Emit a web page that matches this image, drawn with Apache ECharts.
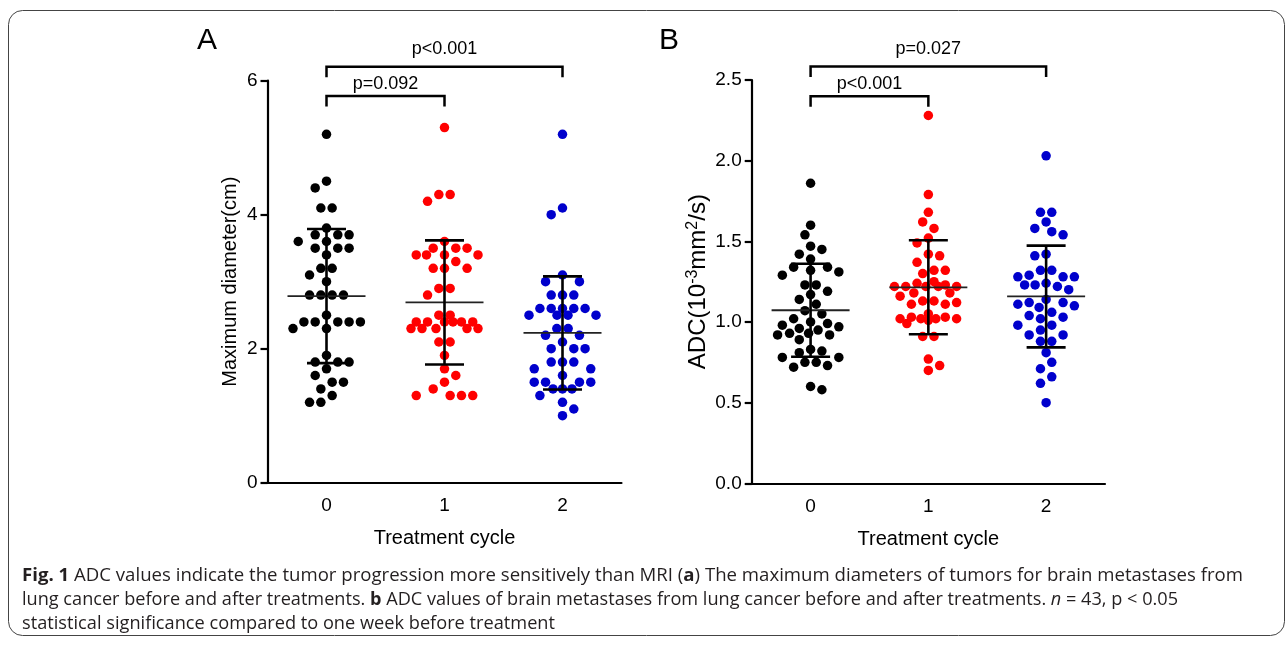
<!DOCTYPE html>
<html><head><meta charset="utf-8">
<script src="https://cdn.jsdelivr.net/npm/echarts@6/dist/echarts.min.js"></script>
<style>html,body{margin:0;padding:0;background:#fff;}#c{width:1287px;height:647px;}</style>
</head><body><div id="c"></div>
<script>
// ---------------- data ----------------
const categories = ['0', '1', '2'];
// Panel A: maximum diameter (cm) per treatment cycle
const diamCycle0 = [5.2,4.5,4.4,4.1,4.1,3.8,3.7,3.7,3.7,3.6,3.6,3.5,3.5,3.5,3.4,3.2,3.2,3.1,3.0,2.8,2.8,2.8,2.8,2.5,2.4,2.4,2.4,2.4,2.4,2.3,2.3,1.9,1.8,1.8,1.8,1.7,1.6,1.5,1.5,1.4,1.3,1.2,1.2];
const diamCycle1 = [5.3,4.3,4.3,4.2,3.6,3.5,3.5,3.5,3.4,3.4,3.4,3.4,3.3,3.2,3.2,3.2,2.9,2.9,2.8,2.5,2.5,2.4,2.4,2.4,2.4,2.4,2.4,2.3,2.3,2.3,2.3,2.3,2.1,2.1,1.9,1.7,1.6,1.5,1.4,1.3,1.3,1.3,1.3];
const diamCycle2 = [5.2,4.1,4.0,3.1,3.0,3.0,2.8,2.8,2.8,2.6,2.6,2.6,2.6,2.6,2.5,2.5,2.5,2.5,2.3,2.3,2.2,2.2,2.1,2.0,2.0,2.0,1.8,1.8,1.8,1.7,1.7,1.6,1.5,1.5,1.5,1.5,1.4,1.4,1.4,1.3,1.2,1.1,1.0];
// Panel B: ADC (10^-3 mm^2/s) per treatment cycle
const adcCycle0 = [1.86,1.60,1.54,1.47,1.45,1.42,1.39,1.34,1.34,1.32,1.31,1.29,1.23,1.23,1.19,1.17,1.14,1.11,1.07,1.05,1.02,1.00,0.99,0.98,0.97,0.96,0.95,0.93,0.93,0.92,0.92,0.89,0.83,0.82,0.81,0.78,0.78,0.75,0.75,0.73,0.72,0.60,0.58];
const adcCycle1 = [2.28,1.79,1.68,1.62,1.58,1.52,1.49,1.42,1.41,1.37,1.32,1.32,1.30,1.25,1.24,1.23,1.22,1.22,1.22,1.22,1.22,1.18,1.18,1.16,1.13,1.13,1.12,1.11,1.11,1.05,1.03,1.03,1.02,1.02,1.02,1.02,1.01,0.99,0.91,0.91,0.77,0.73,0.70];
const adcCycle2 = [2.03,1.68,1.68,1.62,1.58,1.56,1.54,1.42,1.41,1.32,1.32,1.29,1.28,1.28,1.28,1.24,1.23,1.23,1.22,1.20,1.14,1.12,1.12,1.11,1.10,1.09,1.06,1.04,1.03,1.02,0.98,0.98,0.95,0.92,0.92,0.88,0.88,0.81,0.75,0.71,0.66,0.62,0.50];
// axis ticks
const yTicksA = [0, 2, 4, 6];
const yTicksB = [0, 0.5, 1.0, 1.5, 2.0, 2.5];
// significance brackets (both compare against cycle 0)
const bracketToCatA = [1, 2];
const bracketLevelA = [5.77, 6.21];
const bracketLabelA = ['p=0.092', 'p<0.001'];
const bracketToCatB = [1, 2];
const bracketLevelB = [2.40, 2.583];
const bracketLabelB = ['p<0.001', 'p=0.027'];
const panelTitles = ['A', 'B'];
const xAxisTitle = 'Treatment cycle';
const yAxisTitleA = 'Maximum diameter(cm)';
const captionLines = [
  [{t:'Fig. 1', b:1}, {t:' ADC values indicate the tumor progression more sensitively than MRI ('}, {t:'a', b:1}, {t:') The maximum diameters of tumors for brain metastases from'}],
  [{t:'lung cancer before and after treatments. '}, {t:'b', b:1}, {t:' ADC values of brain metastases from lung cancer before and after treatments. '}, {t:'n', i:1}, {t:' = 43, p < 0.05'}],
  [{t:'statistical significance compared to one week before treatment'}]
];

// ---------------- layout ----------------
const GA = {left: 267.5, top: 80.7, width: 354, height: 402};
const GB = {left: 751.7, top: 80, width: 353.3, height: 403.3};
const colors = ['#000000', '#ff0000', '#0000cc'];
const FONT = '"Liberation Sans", Arial, Helvetica, sans-serif';

function meanSd(a) {
  const m = a.reduce((s, v) => s + v, 0) / a.length;
  const sd = Math.sqrt(a.reduce((s, v) => s + (v - m) * (v - m), 0) / (a.length - 1));
  return [m, sd];
}

// beeswarm layout (pixel-space collision avoidance, width-limited)
function swarm(vals, unitX, unitY) {
  const d = 11.3, h = d / 2, kMax = 6, limit = kMax * h;
  const counts = new Map();
  vals.forEach(v => counts.set(v, (counts.get(v) || 0) + 1));
  const idx = vals.map((v, i) => i).sort((a, b) => vals[b] - vals[a] || a - b);
  const placed = [];
  const offs = new Array(vals.length);
  let nL = 0, nR = 0;
  const minD = (x, y) => placed.reduce((m, p) => Math.min(m, Math.hypot(p[0] - x, p[1] - y)), Infinity);
  for (const i of idx) {
    const y = vals[i] * unitY;
    const even = counts.get(vals[i]) % 2 === 0;
    let chosen = null;
    for (let k = 0; k <= kMax && chosen === null; k++) {
      if (even && k % 2 === 0) continue;
      const sides = k === 0 ? [0] : (nL <= nR ? [-k, k] : [k, -k]);
      for (const s of sides) {
        const x = s * h;
        if (minD(x, y) >= d * 0.97) { chosen = x; break; }
      }
    }
    if (chosen === null) {
      // crowded: squeeze in at the position with the most clearance inside the limit
      let best = 0, bestD = -1;
      const order = [];
      for (let x = 0; x <= limit; x += 0.5) { order.push(nL <= nR ? -x : x); if (x > 0) order.push(nL <= nR ? x : -x); }
      for (const x of order) { const md = minD(x, y); if (md > bestD + 0.3) { bestD = md; best = x; } }
      chosen = best;
    }
    if (chosen < 0) nL++; else if (chosen > 0) nR++;
    placed.push([chosen, y]);
    offs[i] = chosen / unitX;
  }
  return offs;
}

function scatterSeries(vals, cat, grid, ymax, xi, yi) {
  const unitX = grid.width / 3, unitY = grid.height / ymax;
  const offs = swarm(vals, unitX, unitY);
  return {
    type: 'scatter', xAxisIndex: xi, yAxisIndex: yi, symbol: 'circle', symbolSize: 9.5,
    itemStyle: {color: colors[cat], opacity: 1}, z: 2, silent: true,
    data: vals.map((v, i) => [cat + offs[i], v])
  };
}

function errSeries(groups, xi, yi) {
  return {
    type: 'custom', xAxisIndex: xi, yAxisIndex: yi, z: 5, silent: true,
    data: groups.map((g, c) => { const ms = meanSd(g); return [c, ms[0], ms[1]]; }),
    renderItem: function (params, api) {
      const c = api.value(0), m = api.value(1), s = api.value(2);
      const pm = api.coord([c, m]), pt = api.coord([c, m + s]), pb = api.coord([c, m - s]);
      const st = {stroke: '#000', lineWidth: 2.6};
      return {type: 'group', children: [
        {type: 'line', shape: {x1: pm[0] - 39, y1: pm[1], x2: pm[0] + 39, y2: pm[1]}, style: {stroke: '#222', lineWidth: 1.8}},
        {type: 'line', shape: {x1: pt[0], y1: pt[1], x2: pb[0], y2: pb[1]}, style: st},
        {type: 'line', shape: {x1: pt[0] - 19.5, y1: pt[1], x2: pt[0] + 19.5, y2: pt[1]}, style: st},
        {type: 'line', shape: {x1: pb[0] - 19.5, y1: pb[1], x2: pb[0] + 19.5, y2: pb[1]}, style: st}
      ]};
    }
  };
}

function bracketSeries(toCats, levels, labels, xi, yi) {
  const lift = [12.5, 18];
  return {
    type: 'custom', xAxisIndex: xi, yAxisIndex: yi, z: 6, clip: false, silent: true,
    data: toCats.map((t, i) => [0, t, levels[i]]),
    renderItem: function (params, api) {
      const a = api.value(0), b = api.value(1), lv = api.value(2);
      const p1 = api.coord([a, lv]), p2 = api.coord([b, lv]);
      const leg = 10.5;
      return {type: 'group', children: [
        {type: 'polyline', shape: {points: [[p1[0], p1[1] + leg], [p1[0], p1[1]], [p2[0], p2[1]], [p2[0], p2[1] + leg]]},
         style: {stroke: '#000', lineWidth: 2.5, fill: null}},
        {type: 'text', style: {text: labels[params.dataIndex], x: (p1[0] + p2[0]) / 2, y: p1[1] - lift[params.dataIndex],
          align: 'center', verticalAlign: 'middle', font: '18px ' + FONT, fill: '#000'}}
      ]};
    }
  };
}

function catAxis(gi) {
  return {
    type: 'category', gridIndex: gi, data: categories, boundaryGap: true,
    name: xAxisTitle, nameLocation: 'middle', nameGap: 46,
    nameTextStyle: {fontFamily: FONT, fontSize: 20, color: '#000'},
    axisLine: {onZero: false, lineStyle: {color: '#000', width: 2.2}},
    axisTick: {alignWithLabel: true, length: 6, lineStyle: {color: '#000', width: 2.2}},
    axisLabel: {fontFamily: FONT, fontSize: 19, color: '#000', margin: 14},
    splitLine: {show: false}
  };
}
function hiddenX(gi) {
  return {type: 'value', gridIndex: gi, min: -0.5, max: 2.5, show: false, splitLine: {show: false}};
}
function yAxisBase(gi) {
  return {
    type: 'value', gridIndex: gi, nameLocation: 'middle', nameRotate: 90,
    axisLine: {show: true, onZero: false, lineStyle: {color: '#000', width: 2.2}},
    axisTick: {show: true, length: 7, lineStyle: {color: '#000', width: 2.2}},
    axisLabel: {fontFamily: FONT, fontSize: 19, color: '#000', margin: 10},
    splitLine: {show: false}
  };
}

const yA = Object.assign(yAxisBase(0), {
  min: yTicksA[0], max: yTicksA[yTicksA.length - 1], interval: yTicksA[1] - yTicksA[0],
  name: yAxisTitleA, nameGap: 27, nameTextStyle: {fontFamily: FONT, fontSize: 20, color: '#000'}
});
const yB = Object.assign(yAxisBase(1), {
  min: yTicksB[0], max: yTicksB[yTicksB.length - 1], interval: yTicksB[1] - yTicksB[0],
  name: '{n|ADC(10}{s|-3}{n|mm}{s|2}{n|/s)}', nameGap: 40,
  nameTextStyle: {fontFamily: FONT, fontSize: 24, color: '#000',
    rich: {n: {fontFamily: FONT, fontSize: 24, color: '#000'},
           s: {fontFamily: FONT, fontSize: 16, color: '#000', padding: [0, 0, 11, 0]}}}
});
yB.axisLabel.formatter = v => v.toFixed(1);

const option = {
  animation: false,
  backgroundColor: '#fff',
  grid: [
    {left: GA.left, top: GA.top, width: GA.width, height: GA.height, containLabel: false},
    {left: GB.left, top: GB.top, width: GB.width, height: GB.height, containLabel: false}
  ],
  xAxis: [catAxis(0), hiddenX(0), catAxis(1), hiddenX(1)],
  yAxis: [yA, yB],
  series: [
    scatterSeries(diamCycle0, 0, GA, 6, 1, 0),
    scatterSeries(diamCycle1, 1, GA, 6, 1, 0),
    scatterSeries(diamCycle2, 2, GA, 6, 1, 0),
    errSeries([diamCycle0, diamCycle1, diamCycle2], 1, 0),
    bracketSeries(bracketToCatA, bracketLevelA, bracketLabelA, 1, 0),
    scatterSeries(adcCycle0, 0, GB, 2.5, 3, 1),
    scatterSeries(adcCycle1, 1, GB, 2.5, 3, 1),
    scatterSeries(adcCycle2, 2, GB, 2.5, 3, 1),
    errSeries([adcCycle0, adcCycle1, adcCycle2], 3, 1),
    bracketSeries(bracketToCatB, bracketLevelB, bracketLabelB, 3, 1)
  ],
  graphic: []
};

// frame
option.graphic.push({type: 'rect', shape: {x: 8.5, y: 10.5, width: 1276, height: 625, r: 14},
  style: {fill: null, stroke: '#444', lineWidth: 1}, z: 0, silent: true});
// panel letters
option.graphic.push({type: 'text', x: 197, y: 41, style: {text: panelTitles[0], font: '30px ' + FONT, fill: '#000', verticalAlign: 'middle'}});
option.graphic.push({type: 'text', x: 659, y: 41, style: {text: panelTitles[1], font: '30px ' + FONT, fill: '#000', verticalAlign: 'middle'}});

// caption (fitted to the reference line widths by horizontal scaling)
const CAP_FONT = '"Open Sans", "Noto Sans", sans-serif';
const CAP_SIZE = 18;
const capTargets = [1221, 1156, 533];
const capY = [576, 600, 624];
const ctx = document.createElement('canvas').getContext('2d');
function capFont(seg) { return (seg.i ? 'italic ' : '') + (seg.b ? 'bold ' : '') + CAP_SIZE + 'px ' + CAP_FONT; }
captionLines.forEach((line, li) => {
  const widths = line.map(seg => { ctx.font = capFont(seg); return ctx.measureText(seg.t).width; });
  const total = widths.reduce((a, b) => a + b, 0);
  const sc = capTargets[li] / total;
  let x = 22;
  line.forEach((seg, si) => {
    option.graphic.push({type: 'text', x: x, y: capY[li], scaleX: sc,
      style: {text: seg.t, font: capFont(seg), fill: '#231f20', verticalAlign: 'middle'}});
    x += widths[si] * sc;
  });
});

const chart = echarts.init(document.getElementById('c'), null, {renderer: 'canvas'});
chart.setOption(option);
</script>
</body></html>
